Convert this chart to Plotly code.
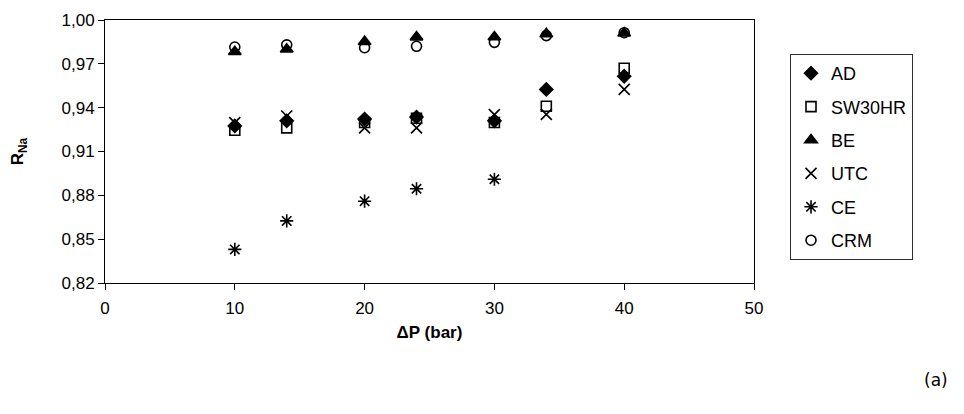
import plotly.graph_objects as go

pressure = [10, 14, 20, 24, 30, 34, 40]
series_names = ["AD", "SW30HR", "BE", "UTC", "CE", "CRM"]
r_ad = [0.9275, 0.9310, 0.9322, 0.9336, 0.9310, 0.9525, 0.9615]
r_sw30hr = [0.9245, 0.9262, 0.9298, 0.9328, 0.9298, 0.9410, 0.9670]
r_be = [0.9783, 0.9800, 0.9852, 0.9883, 0.9884, 0.9905, 0.9910]
r_utc = [0.9298, 0.9343, 0.9262, 0.9262, 0.9352, 0.9354, 0.9525]
r_ce = [0.8430, 0.8625, 0.8760, 0.8845, 0.8910, None, None]
r_crm = [0.9815, 0.9830, 0.9810, 0.9820, 0.9847, 0.9893, 0.9913]
y_ticks = [0.82, 0.85, 0.88, 0.91, 0.94, 0.97, 1.00]
x_ticks = [0, 10, 20, 30, 40, 50]

values = [r_ad, r_sw30hr, r_be, r_utc, r_ce, r_crm]
symbols = ["diamond", "square-open", "triangle-up", "x-thin-open", "asterisk-open", "circle-open"]
sizes = [10, 10, 11, 11, 11, 10]

fig = go.Figure()
for name, vals, sym, sz in zip(series_names, values, symbols, sizes):
    xs = [p for p, v in zip(pressure, vals) if v is not None]
    ys = [v for v in vals if v is not None]
    fig.add_trace(go.Scatter(
        x=xs, y=ys, mode="markers", name=name, legendgroup=name,
        marker=dict(symbol=sym, size=sz, color="black",
                    line=dict(color="black", width=1.6)),
    ))

FONT = "Arial"
axis_font = dict(family=FONT, size=17, color="black")
W, H = 956, 406
L, R, T, B = 97, 210, 12, 131
pw, ph = W - L - R, H - T - B

fig.update_layout(
    width=W, height=H,
    margin=dict(l=L, r=R, t=T, b=B),
    paper_bgcolor="white", plot_bgcolor="white",
    separators=",.",
    showlegend=True,
    legend=dict(x=(782 - L) / pw, y=(T + ph - 46) / ph, xanchor="left", yanchor="top",
                bordercolor="#303030", borderwidth=1,
                font=dict(family=FONT, size=18, color="black"),
                tracegroupgap=7, itemwidth=30),
    xaxis=dict(range=[0, 50], tickvals=x_ticks, ticks="outside", ticklen=6,
               tickcolor="black", showline=True, linecolor="black", linewidth=1,
               mirror=True, showgrid=False, zeroline=False, tickfont=axis_font,
               automargin=False, ticklabelstandoff=4,
               title=dict(text="<b>ΔP (bar)</b>", font=dict(family=FONT, size=17, color="black"), standoff=8)),
    yaxis=dict(range=[0.82, 1.00], tickvals=y_ticks, tickformat=".2f", ticks="outside", ticklen=6,
               tickcolor="black", showline=True, linecolor="black", linewidth=1,
               mirror=True, showgrid=False, zeroline=False, tickfont=axis_font,
               automargin=False,
               title=dict(text="<b>R<sub>Na</sub></b>", font=dict(family=FONT, size=17, color="black"), standoff=35)),
    annotations=[dict(text="(a)", x=(928 - L) / pw, y=(T + ph - 372) / ph,
                      xref="paper", yref="paper", xanchor="center", yanchor="middle",
                      showarrow=False,
                      font=dict(family="DejaVu Sans, sans-serif", size=17, color="black"))],
)
fig.write_html("out.html")
